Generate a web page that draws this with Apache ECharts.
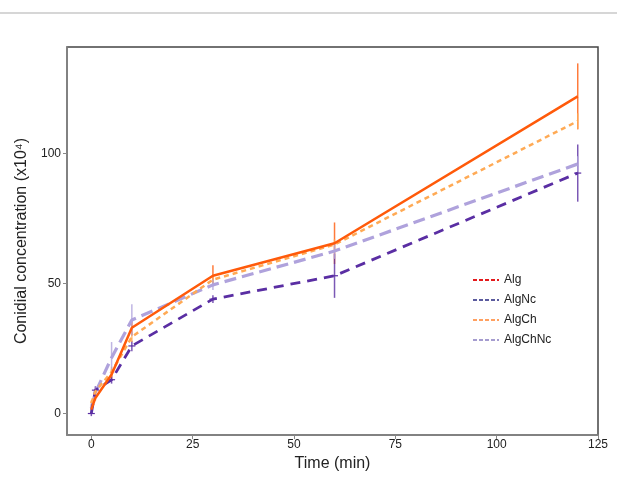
<!DOCTYPE html>
<html>
<head>
<meta charset="utf-8">
<script src="https://cdn.jsdelivr.net/npm/echarts@6/dist/echarts.min.js"></script>
<style>html,body{margin:0;padding:0;background:#fff}#c{width:617px;height:477px}</style>
</head>
<body>
<div id="c"></div>
<script>
var times = [0, 1, 5, 10, 30, 60, 120];
var seriesNames = ['Alg', 'AlgNc', 'AlgCh', 'AlgChNc'];
var alg = [1.5, 6, 15, 33, 53, 65.5, 122];
var algNc = [0, 9, 13, 26, 44, 53, 92.5];
var algCh = [4, 8.5, 16, 29.5, 51.5, 65, 112.5];
var algChNc = [2, 8, 21.5, 36, 49.5, 62.5, 96];
var algErr = [0.5, 1, 2, 3, 4, 8, 12.7];
var algNcErr = [1, 1.5, 1.5, 2, 1.5, 8.5, 11];
var algChErr = [1, 1, 2, 2, 2, 2, 3];
var algChNcErr = [1, 2, 6, 6, 2, 3, 3];
var xTicks = [0, 25, 50, 75, 100, 125];
var yTicks = [0, 50, 100];

var lineColors = ['#FF5A0A', '#5A2EA3', '#FFAA55', '#AFA2DC'];
var legendColors = ['#E41A1C', '#5B5B9E', '#FFA060', '#A59CCF'];

function pairs(vals) { return times.map(function (t, i) { return [t, vals[i]]; }); }
function errData(vals, errs) { return times.map(function (t, i) { return [t, vals[i] - errs[i], vals[i] + errs[i], vals[i]]; }); }

function errSeries(name, vals, errs, color, cap) {
  return {
    type: 'custom', name: name + '_err', z: 1, silent: true,
    data: errData(vals, errs),
    encode: { x: 0, y: [1, 2] },
    renderItem: function (params, api) {
      var lo = api.coord([api.value(0), api.value(1)]);
      var hi = api.coord([api.value(0), api.value(2)]);
      var mid = api.coord([api.value(0), api.value(3)]);
      var ch = [{
        type: 'line', shape: { x1: lo[0], y1: lo[1], x2: hi[0], y2: hi[1] },
        style: { stroke: color, lineWidth: 1.5, opacity: 0.8 }
      }];
      if (cap) {
        ch.push({ type: 'line', shape: { x1: mid[0] - 3.5, y1: mid[1], x2: mid[0] + 3.5, y2: mid[1] },
          style: { stroke: color, lineWidth: 1.2 } });
      }
      return { type: 'group', children: ch };
    }
  };
}

var chart = echarts.init(document.getElementById('c'), null, { renderer: 'canvas' });
var lineTypes = ['solid', [10, 7], [5, 4], [12, 6]];
var widths = [2.5, 2.8, 2.5, 3.2];
var vals = [alg, algNc, algCh, algChNc];
var errs = [algErr, algNcErr, algChErr, algChNcErr];

var series = [];
for (var i = 0; i < 4; i++) {
  series.push(errSeries(seriesNames[i], vals[i], errs[i], lineColors[i], i === 1));
}
[3, 1, 2, 0].forEach(function (i) {
  series.push({
    type: 'line', name: seriesNames[i], data: pairs(vals[i]), symbol: 'none', z: 3,
    color: lineColors[i],
    lineStyle: { color: lineColors[i], width: widths[i], type: lineTypes[i] }
  });
});

chart.setOption({
  animation: false,
  backgroundColor: '#fff',
  graphic: [{ type: 'line', shape: { x1: 0, y1: 13, x2: 617, y2: 13 }, style: { stroke: '#c8c8c8', lineWidth: 1.5 } }],
  grid: { left: 67, right: 19, top: 47, bottom: 34, show: true, borderColor: '#444', borderWidth: 1.5 },
  legend: {
    left: 467, top: 269, orient: 'vertical', itemGap: 8, itemWidth: 26, itemHeight: 12,
    textStyle: { fontFamily: 'Liberation Sans, Arial, sans-serif', fontSize: 12, color: '#222' },
    data: seriesNames.map(function (n, i) {
      return { name: n,
        lineStyle: { color: legendColors[i], type: [4, 2], width: 2 },
        itemStyle: { color: legendColors[i], opacity: 0 } };
    })
  },
  xAxis: {
    type: 'value', min: -6, max: 125,
    name: 'Time (min)', nameLocation: 'middle', nameGap: 15,
    nameTextStyle: { fontFamily: 'Liberation Sans, Arial, sans-serif', fontSize: 16, color: '#222' },
    splitLine: { show: false },
    axisLine: { onZero: false, lineStyle: { color: '#888', width: 1.5 } },
    axisTick: { show: true, length: 4, customValues: xTicks, lineStyle: { color: '#888' } },
    axisLabel: { customValues: xTicks, margin: 4, fontFamily: 'Liberation Sans, Arial, sans-serif', fontSize: 12, color: '#222' }
  },
  yAxis: {
    type: 'value', min: -8.3, max: 141,
    name: 'Conidial concentration (x10⁴)', nameLocation: 'middle', nameGap: 37,
    nameTextStyle: { fontFamily: 'Liberation Sans, Arial, sans-serif', fontSize: 16, color: '#222' },
    splitLine: { show: false },
    axisLine: { show: true, onZero: false, lineStyle: { color: '#888', width: 1.5 } },
    axisTick: { show: true, length: 4, customValues: yTicks, lineStyle: { color: '#888' } },
    axisLabel: { customValues: yTicks, margin: 6, fontFamily: 'Liberation Sans, Arial, sans-serif', fontSize: 12, color: '#222' }
  },
  series: series
});
</script>
</body>
</html>
